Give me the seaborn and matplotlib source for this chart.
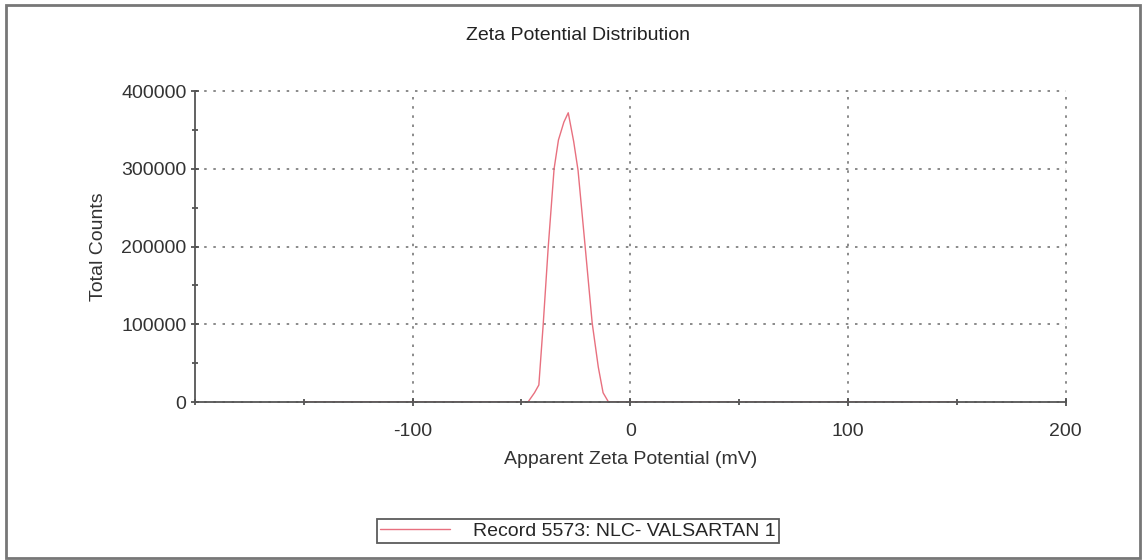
import numpy as np
import pandas as pd
import seaborn as sns
import matplotlib.pyplot as plt
from matplotlib.patches import Rectangle
from matplotlib.ticker import MultipleLocator

# Zeta potential distribution values
zeta_mv = [-150, -47, -44, -42, -40, -37.7, -35, -33, -30.5, -28.5,
           -26, -24, -20.7, -17.5, -14.7, -12.5, -10, 150]
total_counts = [0, 0, 12000, 22000, 100000, 199000, 300000, 337000, 360000, 372000,
                335000, 298000, 199000, 101600, 45000, 12000, 0, 0]
record_label = 'Record 5573: NLC- VALSARTAN 1'

df = pd.DataFrame({'zeta': zeta_mv, 'counts': total_counts})

sns.set_style('white')
plt.rcParams['font.family'] = ['Liberation Sans', 'DejaVu Sans']
plt.rcParams['axes.unicode_minus'] = False

fig = plt.figure(figsize=(11.46, 5.6), dpi=100)
ax = fig.add_axes([0.170, 0.282, 0.760, 0.5555])

sns.lineplot(data=df, x='zeta', y='counts', ax=ax, color='#e8707f', linewidth=1.0,
             label=record_label, legend=False)

ax.set_xlim(-200, 200)
ax.set_ylim(0, 400000)
ax.set_xticks([-100, 0, 100, 200])
ax.set_xticks([-200, -150, -50, 50, 150], minor=True)
ax.yaxis.set_major_locator(MultipleLocator(100000))
ax.yaxis.set_minor_locator(MultipleLocator(50000))
ax.grid(True, which='major', linestyle=(0, (1.5, 4)), color='#777777', linewidth=1.2)
for gl in ax.get_xgridlines() + ax.get_ygridlines():
    gl.set_clip_on(False)

for side in ['top', 'right']:
    ax.spines[side].set_visible(False)
for side in ['left', 'bottom']:
    ax.spines[side].set_color('#555555')
    ax.spines[side].set_linewidth(1.3)

ax.tick_params(which='both', bottom=True, left=True, direction='inout',
               colors='#444444', labelsize=14, labelcolor='#333333', width=1.2)
ax.tick_params(which='major', length=6)
ax.tick_params(which='minor', length=5)
ax.tick_params(axis='x', which='major', pad=12)
ax.tick_params(axis='y', which='major', pad=3)

fig.text(578 / 1146, 1 - 35 / 560, 'Zeta Potential Distribution', fontsize=14,
         color='#222222', ha='center', va='center')
ax.set_xlabel('Apparent Zeta Potential (mV)', fontsize=14, color='#333333', labelpad=8)
ax.set_ylabel('Total Counts', fontsize=14, color='#333333', labelpad=10)

handles, labels = ax.get_legend_handles_labels()
leg = fig.legend(handles, labels, loc='center', bbox_to_anchor=(578 / 1146, 1 - 531 / 560),
                 fontsize=14, frameon=True, fancybox=False, handlelength=3.6,
                 handletextpad=1.2, borderpad=0.15, edgecolor='#333333')
leg.get_frame().set_linewidth(1.3)

# outer border of the picture
fig.add_artist(Rectangle((0.005, 0.004), 0.990, 0.987, transform=fig.transFigure,
                         fill=False, edgecolor='#777777', linewidth=2))

fig.savefig('out.png', dpi=100)
